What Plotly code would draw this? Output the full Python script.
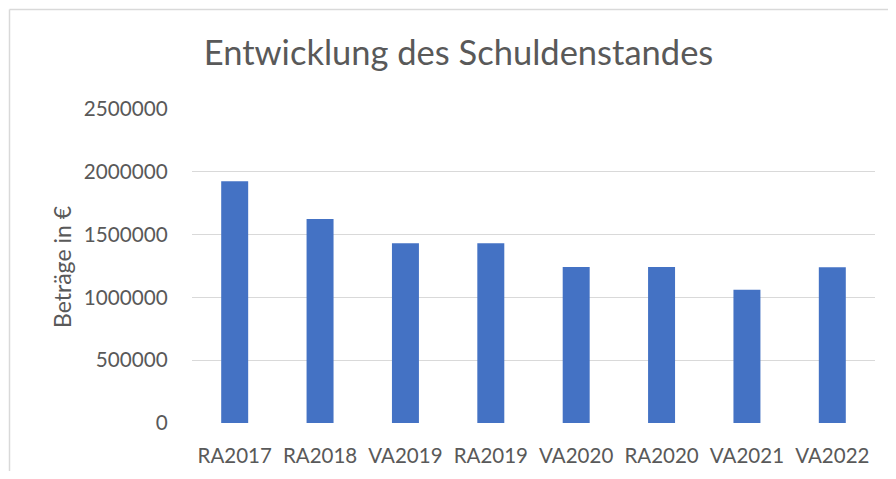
import plotly.graph_objects as go

categories = ["RA2017", "RA2018", "VA2019", "RA2019", "VA2020", "RA2020", "VA2021", "VA2022"]
values = [1924000, 1624000, 1431000, 1431000, 1242000, 1242000, 1060000, 1240000]
y_ticks = [0, 500000, 1000000, 1500000, 2000000, 2500000]
y_tick_labels = ["0", "500000", "1000000", "1500000", "2000000", "2500000"]

# page has an 8px body margin, so work in figure coordinates = page - 8
OFF = 8
W, H = 896 - 2 * OFF, 479 - 2 * OFF
L, R, T, B = 192 - OFF, 875 - OFF, 109 - OFF, 423 - OFF

font_fam = "Lato, 'Open Sans', sans-serif"
gray = "#595959"

fig = go.Figure(go.Bar(x=categories, y=values, marker=dict(color="#4472C4", line=dict(width=0))))

def px_x(p):
    return (p - OFF - L) / (R - L)

def px_y(p):
    return (B - (p - OFF)) / (B - T)

fig.update_layout(
    width=W, height=H,
    margin=dict(l=L, r=W - R, t=T, b=H - B, pad=0, autoexpand=False),
    paper_bgcolor="white", plot_bgcolor="white",
    bargap=0.684,
    showlegend=False,
    font=dict(family=font_fam, color=gray),
    title=dict(text="Entwicklung des Schuldenstandes", xref="container", yref="container",
               x=(458.5 - OFF) / W, xanchor="center", y=1 - (53 - OFF) / H, yanchor="middle",
               font=dict(size=34.5, color=gray, family=font_fam)),
    xaxis=dict(showgrid=False, showline=False, zeroline=False, ticks="outside", ticklen=14,
               automargin=False,
               tickcolor="rgba(0,0,0,0)", tickfont=dict(size=20.5, color=gray)),
    yaxis=dict(range=[0, 2500000], tickvals=y_ticks, ticktext=y_tick_labels, showgrid=True,
               automargin=False,
               gridcolor="#d9d9d9", gridwidth=1, zeroline=False, showline=False,
               ticks="outside", ticklen=19, tickcolor="rgba(0,0,0,0)",
               tickfont=dict(size=20.7, color=gray)),
    annotations=[dict(text="Beträge in €", textangle=-90, xref="paper", yref="paper",
                      x=px_x(62), y=px_y(267), xanchor="center", yanchor="middle",
                      showarrow=False, font=dict(size=23, color=gray, family=font_fam))],
    shapes=[
        dict(type="line", xref="paper", yref="paper", x0=px_x(9.5), x1=px_x(905),
             y0=px_y(9.5), y1=px_y(9.5), line=dict(color="#d9d9d9", width=1.5)),
        dict(type="line", xref="paper", yref="paper", x0=px_x(9.5), x1=px_x(9.5),
             y0=px_y(9.5), y1=px_y(490), line=dict(color="#d9d9d9", width=1.5)),
    ],
)

fig.write_html("out.html")
